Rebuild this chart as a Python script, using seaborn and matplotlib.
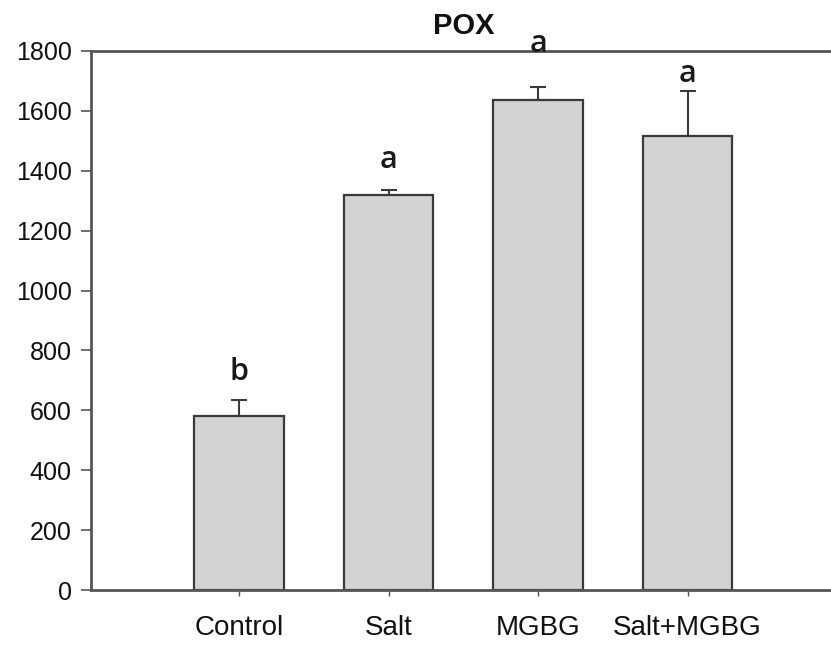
import matplotlib
matplotlib.use("Agg")
import matplotlib.pyplot as plt
import seaborn as sns
import pandas as pd

groups = ["Control", "Salt", "MGBG", "Salt+MGBG"]
pox = [581, 1319, 1637, 1516]
pox_err = [52, 17, 43, 150]
letters = ["b", "a", "a", "a"]
letter_y = [728, 1436, 1824, 1723]

sns.set_theme(style="white")
plt.rcParams["font.family"] = ["Liberation Sans", "DejaVu Sans"]

df = pd.DataFrame({"group": groups, "pox": pox})

fig = plt.figure(figsize=(8.31, 6.46), dpi=100)
ax = fig.add_axes([91 / 831, 1 - 590 / 646, (837 - 91) / 831, (590 - 51) / 646])

sns.barplot(data=df, x="group", y="pox", order=groups, color="#d3d3d3",
            saturation=1, width=0.6, edgecolor="#3a3a3a", linewidth=1.6, ax=ax)

ax.errorbar(range(len(groups)), pox, yerr=[[0] * len(groups), pox_err],
            fmt="none", ecolor="#3a3a3a", elinewidth=1.5, capsize=6, capthick=1.5)

for i, (lab, ly) in enumerate(zip(letters, letter_y)):
    ax.text(i, ly, lab, ha="center", va="center", fontsize=22, color="#1a1a1a",
            family=["Open Sans", "DejaVu Sans"], fontweight="semibold",
            clip_on=False)

ax.set_xlim(-0.99, 4.0)
ax.set_ylim(0, 1800)
ax.set_yticks(range(0, 1801, 200))
ax.set_xlabel("")
ax.set_ylabel("")
ax.set_title("POX", fontsize=21, fontweight="bold", pad=12, color="#111111")

for side in ["left", "bottom", "top"]:
    ax.spines[side].set_color("#555555")
    ax.spines[side].set_linewidth(2)
ax.spines["right"].set_visible(False)

ax.tick_params(axis="y", which="major", direction="out", length=7, width=1.2,
               color="#555555", labelsize=18, left=True, pad=7,
               labelcolor="#111111")
ax.tick_params(axis="x", which="major", direction="out", length=4, width=1.0,
               color="#555555", labelsize=20, bottom=True, pad=14,
               labelcolor="#111111")

fig.savefig("out.png", dpi=100)
